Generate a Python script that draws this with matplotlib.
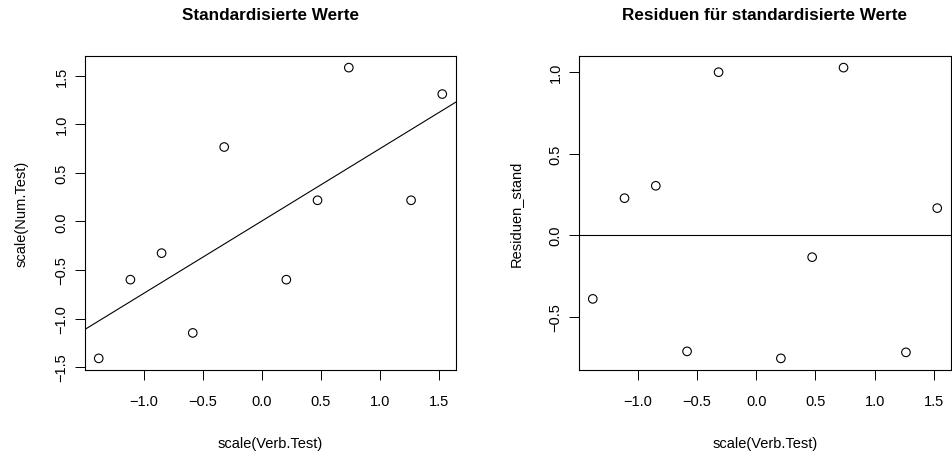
import numpy as np
import matplotlib
matplotlib.use("Agg")
import matplotlib.pyplot as plt

plt.rcParams['font.family'] = ['Liberation Sans', 'DejaVu Sans']

# standardised values
verb_std = [-1.38, -1.112, -0.848, -0.584, -0.318, 0.208, 0.472, 0.737, 1.264, 1.528]
num_std = [-1.41, -0.600, -0.327, -1.148, 0.765, -0.600, 0.217, 1.582, 0.217, 1.310]
resid_std = [-0.391, 0.227, 0.303, -0.713, 1.000, -0.756, -0.135, 1.028, -0.719, 0.166]

x_ticks = [-1.0, -0.5, 0.0, 0.5, 1.0, 1.5]
y_ticks_left = [-1.5, -1.0, -0.5, 0.0, 0.5, 1.0, 1.5]
y_ticks_right = [-0.5, 0.0, 0.5, 1.0]

TICK_FS = 10.5
LABEL_FS = 10.5
TITLE_FS = 12.3


def r_range(vals):
    lo, hi = min(vals), max(vals)
    pad = (hi - lo) * 0.04
    return lo - pad, hi + pad


def fmt(t):
    return ("%.1f" % t).replace("-", "\u2212")


def style_axes(ax, yticks):
    ax.set_xticks(x_ticks)
    ax.set_xticklabels([fmt(t) for t in x_ticks])
    ax.set_yticks(yticks)
    ax.set_yticklabels([fmt(t) for t in yticks], rotation=90, va='center')
    ax.tick_params(direction='out', length=7.2, width=0.7, labelsize=TICK_FS)
    ax.tick_params(axis='x', pad=10)
    ax.tick_params(axis='y', pad=4.5)
    for s in ax.spines.values():
        s.set_linewidth(0.8)


fig = plt.figure(figsize=(9.52, 4.52), dpi=100)

# left: standardised scatter with regression line
ax1 = fig.add_axes([85/952, 1-371/452, (456-85)/952, (371-57)/452])
ax1.scatter(verb_std, num_std, s=38, facecolors='none', edgecolors='black', linewidths=0.8)
ax1.set_xlim(*r_range(verb_std))
ax1.set_ylim(*r_range(num_std))
slope, intercept = np.polyfit(verb_std, num_std, 1)
ax1.axline((0, intercept), slope=slope, color='black', linewidth=0.8)
style_axes(ax1, y_ticks_left)
ax1.set_title("Standardisierte Werte", fontsize=TITLE_FS, fontweight='bold', pad=27)
ax1.set_xlabel("scale(Verb.Test)", fontsize=LABEL_FS, labelpad=20)
ax1.set_ylabel("scale(Num.Test)", fontsize=LABEL_FS, labelpad=19)

# right: residuals
ax2 = fig.add_axes([579/952, 1-371/452, (951-579)/952, (371-57)/452])
ax2.scatter(verb_std, resid_std, s=38, facecolors='none', edgecolors='black', linewidths=0.8)
ax2.set_xlim(*r_range(verb_std))
ax2.set_ylim(*r_range(resid_std))
ax2.axhline(0, color='black', linewidth=0.8)
style_axes(ax2, y_ticks_right)
ax2.set_title("Residuen für standardisierte Werte", fontsize=TITLE_FS, fontweight='bold', pad=27)
ax2.set_xlabel("scale(Verb.Test)", fontsize=LABEL_FS, labelpad=20)
ax2.set_ylabel("Residuen_stand", fontsize=LABEL_FS, labelpad=19)

fig.savefig("out.png", dpi=100)
